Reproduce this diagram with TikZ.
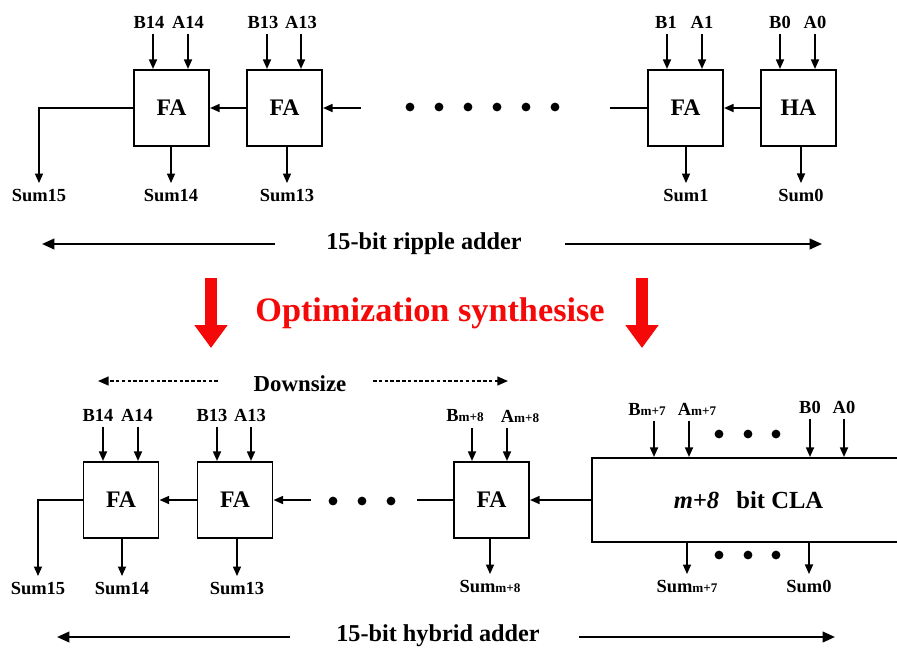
\documentclass[tikz,border=0pt]{standalone}
\usepackage{fontspec}
\setmainfont{Liberation Serif}
\usepackage{xcolor}
\definecolor{optred}{RGB}{245, 8, 8}
\usetikzlibrary{arrows.meta, positioning}
\newcommand{\idx}[1]{{\fontsize{7.5}{8}\selectfont #1}}

\begin{document}
\begin{tikzpicture}[
    x=0.02cm, y=-0.02cm,
    bitbox/.style={
        rectangle, draw, line width=1.1pt, minimum width=1.5cm, minimum height=1.52cm,
        font=\bfseries\fontsize{13.5}{15}\selectfont
    },
    pinlbl/.style={font=\bfseries\fontsize{10.5}{12}\selectfont, inner sep=3pt},
    spanlbl/.style={font=\bfseries\fontsize{13.8}{16}\selectfont, inner sep=2pt},
    sigline/.style={-{Triangle[length=5.5pt, width=4.5pt]}, line width=1.1pt},
    wire/.style={line width=1.1pt},
    spanarrow/.style={-{Triangle[length=7pt, width=6pt]}, line width=1.2pt},
    sizearrow/.style={-{Triangle[length=6pt, width=5pt]}, line width=0.9pt, dash pattern=on 2pt off 1.3pt},
    optarrow/.style={-{Triangle[length=13pt, width=18pt]}, line width=6.5pt, color=optred}
]
\useasboundingbox (0,0) rectangle (897,650);

% Nodes: ripple adder
\node[bitbox] (fa14) at (171.5,108) {FA};
\node[bitbox] (fa13) at (284.5,108) {FA};
\node[bitbox] (fa1) at (685.5,108) {FA};
\node[bitbox] (ha0) at (798.5,108) {HA};

\node[pinlbl] (b14) at (149,22) {B14};
\node[pinlbl] (a14) at (188,22) {A14};
\node[pinlbl] (b13) at (263,22) {B13};
\node[pinlbl] (a13) at (301,22) {A13};
\node[pinlbl] (b1) at (666,22) {B1};
\node[pinlbl] (a1) at (702,22) {A1};
\node[pinlbl] (b0) at (780,22) {B0};
\node[pinlbl] (a0) at (815,22) {A0};

\node[pinlbl] (s15) at (39,195) {Sum15};
\node[pinlbl] (s14) at (171,195) {Sum14};
\node[pinlbl] (s13) at (287,195) {Sum13};
\node[pinlbl] (s1) at (686,195) {Sum1};
\node[pinlbl] (s0) at (801,195) {Sum0};

\coordinate (cin13) at (361,108);
\coordinate (cout1) at (610,108);

\node[spanlbl] (ripple) at (424,244) {15-bit ripple adder};
\coordinate (ripL) at (275,244);
\coordinate (ripLend) at (42,244);
\coordinate (ripR) at (565,244);
\coordinate (ripRend) at (822,244);

% Nodes: optimization
\node[font=\bfseries\fontsize{19.5}{22}\selectfont, text=optred] (opt) at (430,313) {Optimization synthesise};
\coordinate (optL) at (211,278);
\coordinate (optLend) at (211,348);
\coordinate (optR) at (642,278);
\coordinate (optRend) at (642,348);

\node[spanlbl, font=\bfseries\fontsize{13}{15}\selectfont] (down) at (300,384) {Downsize};
\coordinate (downL) at (218,381);
\coordinate (downLend) at (98,381);
\coordinate (downR) at (373,381);
\coordinate (downRend) at (508,381);

% Nodes: hybrid adder
\node[bitbox] (hb14) at (121,500) {FA};
\node[bitbox] (hb13) at (235,500) {FA};
\node[bitbox] (hbm) at (491.5,500) {FA};
\node[bitbox, minimum width=6.26cm, minimum height=1.68cm, font=\bfseries\fontsize{14}{16}\selectfont] (cla) at (748.5,500) {\textit{m+8}\hspace{0.7em}bit CLA};

\node[pinlbl] (hB14) at (98,415) {B14};
\node[pinlbl] (hA14) at (137,415) {A14};
\node[pinlbl] (hB13) at (212,415) {B13};
\node[pinlbl] (hA13) at (250,415) {A13};
\node[pinlbl] (hBm) at (465,416) {B\idx{m+8}};
\node[pinlbl] (hAm) at (520,416) {A\idx{m+8}};
\node[pinlbl] (cBm) at (647,409) {B\idx{m+7}};
\node[pinlbl] (cAm) at (697,409) {A\idx{m+7}};
\node[pinlbl] (cB0) at (810,407) {B0};
\node[pinlbl] (cA0) at (844,407) {A0};

\node[pinlbl] (hs15) at (38,588) {Sum15};
\node[pinlbl] (hs14) at (122,588) {Sum14};
\node[pinlbl] (hs13) at (237,588) {Sum13};
\node[pinlbl] (hsm) at (490,586) {Sum\idx{m+8}};
\node[pinlbl] (csm) at (687,586) {Sum\idx{m+7}};
\node[pinlbl] (cs0) at (809,586) {Sum0};

\coordinate (hcin13) at (311,500);
\coordinate (hcoutm) at (417,500);

\node[spanlbl] (hybrid) at (438,636) {15-bit hybrid adder};
\coordinate (hybL) at (290,637);
\coordinate (hybLend) at (57,637);
\coordinate (hybR) at (579,637);
\coordinate (hybRend) at (835,637);

% Connections: ripple adder
\foreach \p/\x/\q in {b14/153/fa14, a14/188/fa14, b13/267/fa13, a13/301/fa13, b1/667/fa1, a1/702/fa1, b0/780/ha0, a0/815/ha0}
    \draw[sigline] (\x,0 |- \p.south) -- (\x,0 |- \q.north);
\foreach \q/\s in {fa14/s14, fa13/s13, fa1/s1, ha0/s0}
    \draw[sigline] (\s |- \q.south) -- (\s);
\draw[sigline] (fa14.west) -| (s15);
\draw[sigline] (fa13) -- (fa14);
\draw[sigline] (cin13) -- (fa13);
\draw[wire] (cout1) -- (fa1);
\draw[sigline] (ha0) -- (fa1);
\foreach \x in {410,439,468,497,526,555}
    \fill (\x,107) circle (2.5pt);

\draw[spanarrow] (ripL) -- (ripLend);
\draw[spanarrow] (ripR) -- (ripRend);

% Connections: optimization
\draw[optarrow] (optL) -- (optLend);
\draw[optarrow] (optR) -- (optRend);
\draw[sizearrow] (downL) -- (downLend);
\draw[sizearrow] (downR) -- (downRend);

% Connections: hybrid adder
\foreach \p/\x/\q in {hB14/103/hb14, hA14/138/hb14, hB13/217/hb13, hA13/251/hb13, hBm/472/hbm, hAm/507/hbm, cBm/654/cla, cAm/689/cla, cB0/810/cla, cA0/844/cla}
    \draw[sigline] (\x,0 |- \p.south) -- (\x,0 |- \q.north);
\foreach \q/\s in {hb14/hs14, hb13/hs13, hbm/hsm, cla/csm, cla/cs0}
    \draw[sigline] (\s |- \q.south) -- (\s);
\draw[sigline] (hb14.west) -| (hs15);
\draw[sigline] (hb13) -- (hb14);
\draw[sigline] (hcin13) -- (hb13);
\draw[wire] (hcoutm) -- (hbm);
\draw[sigline] (cla) -- (hbm);
\foreach \x in {333,362,391}
    \fill (\x,501) circle (2.5pt);
\foreach \x in {719,748,776} {
    \fill (\x,434) circle (2.5pt);
    \fill (\x,555) circle (2.5pt);
}

\draw[spanarrow] (hybL) -- (hybLend);
\draw[spanarrow] (hybR) -- (hybRend);

\end{tikzpicture}
\end{document}
